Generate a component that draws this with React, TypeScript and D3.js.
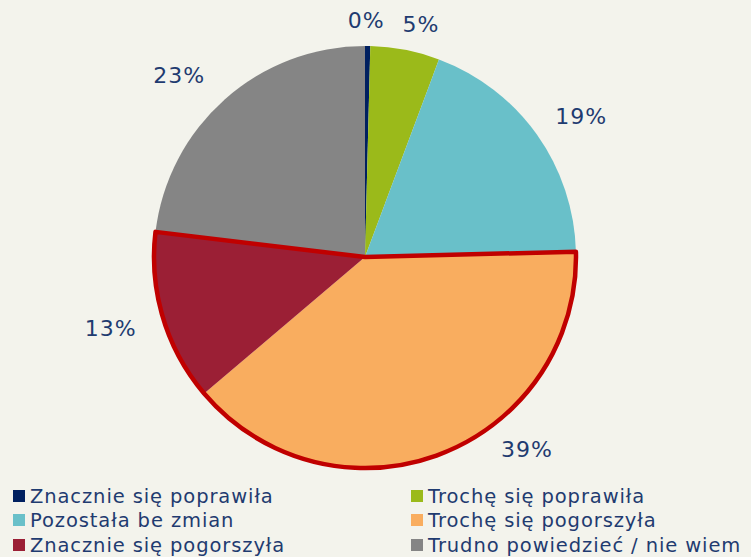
import React, { useEffect, useRef } from "react";
import * as d3 from "d3";

const categories = [
  "Znacznie się poprawiła",
  "Trochę się poprawiła",
  "Pozostała be zmian",
  "Trochę się pogorszyła",
  "Znacznie się pogorszyła",
  "Trudno powiedzieć / nie wiem",
];
const values = [0.4, 5.3, 18.9, 39.2, 13.1, 23.1];
const labels = ["0%", "5%", "19%", "39%", "13%", "23%"];
const colors = ["#002060", "#9BBA1A", "#69C0C9", "#F9AD5F", "#9B1F35", "#858585"];
// slices outlined together
const highlighted = [3, 4];

// label placement (polar, degrees clockwise from top / radius in px)
const labelAngle = [0.3, 13.5, 56.9, 139.8, 254.4, 314.4];
const labelDist = [237, 240, 258, 251, 264, 260];

const App = () => {
  const svgRef: any = useRef();

  useEffect(() => {
    const width = 751;
    const height = 557;
    const cx = 365;
    const cy = 257;
    const r = 211;
    const font = "DejaVu Sans, Verdana, sans-serif";
    const textColor = "#1F3B70";
    const svg = d3.select(svgRef.current);
    svg.selectAll("*").remove();
    svg.attr("width", width).attr("height", height);

    svg.append("rect").attr("width", width).attr("height", height).attr("fill", "#F3F3EC");

    const pie = d3.pie<number>().sort(null).value((d) => d);
    const arcs = pie(values);
    const arc = d3.arc<any>().innerRadius(0).outerRadius(r);

    const g = svg.append("g").attr("transform", `translate(${cx},${cy})`);
    g.selectAll(".slice")
      .data(arcs)
      .join("path")
      .attr("class", "slice")
      .attr("d", arc)
      .attr("fill", (d, i) => colors[i]);

    // red outline around the "worse" slices
    const hs = arcs[highlighted[0]].startAngle;
    const he = arcs[highlighted[highlighted.length - 1]].endAngle;
    g.append("path")
      .attr("d", arc({ startAngle: hs, endAngle: he }))
      .attr("fill", "none")
      .attr("stroke", "#C00000")
      .attr("stroke-width", 4.5)
      .attr("stroke-linejoin", "round");

    g.selectAll(".lbl")
      .data(arcs)
      .join("text")
      .attr("class", "lbl")
      .attr("x", (d, i) => Math.sin((labelAngle[i] * Math.PI) / 180) * labelDist[i])
      .attr("y", (d, i) => -Math.cos((labelAngle[i] * Math.PI) / 180) * labelDist[i])
      .attr("text-anchor", "middle")
      .attr("dy", "0.36em")
      .attr("font-family", font)
      .attr("font-size", 22)
      .attr("letter-spacing", 1)
      .attr("fill", textColor)
      .text((d, i) => labels[i]);

    // legend
    const colX = [13, 411];
    const rowY = [496, 520, 545];
    const leg = svg
      .selectAll(".leg")
      .data(categories)
      .join("g")
      .attr("class", "leg")
      .attr("transform", (d, i) => `translate(${colX[i % 2]},${rowY[Math.floor(i / 2)]})`);
    leg
      .append("rect")
      .attr("x", 0)
      .attr("y", -6)
      .attr("width", 12)
      .attr("height", 12)
      .attr("fill", (d, i) => colors[i]);
    leg
      .append("text")
      .attr("x", 17)
      .attr("dy", "0.36em")
      .attr("font-family", font)
      .attr("font-size", 19.5)
      .attr("letter-spacing", 0.9)
      .attr("fill", textColor)
      .text((d) => d);
  }, []);

  return <svg ref={svgRef} style={{ position: "absolute", left: 0, top: 0 }}></svg>;
};

export default App;
